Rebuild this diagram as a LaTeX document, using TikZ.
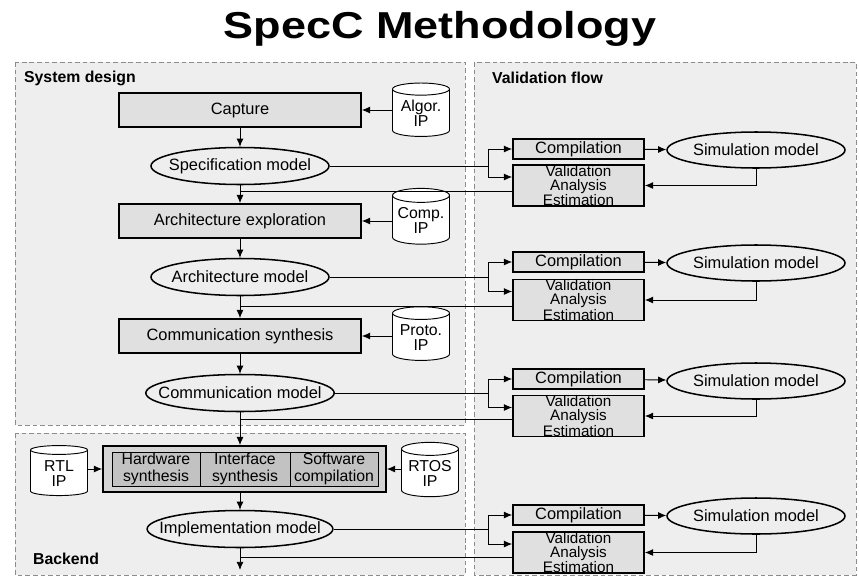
\documentclass[tikz,border=0pt]{standalone}
\usepackage{fontspec}
\setmainfont{Liberation Sans}
\usetikzlibrary{shapes.geometric,arrows.meta}

\definecolor{panelgray}{HTML}{EEEEEE}
\definecolor{boxgray}{HTML}{E0E0E0}
\definecolor{hwgray}{HTML}{D4D4D4}
\definecolor{hwinner}{HTML}{C2C2C2}
\definecolor{dashgray}{HTML}{8C8C8C}

% two-line label of an IP library, set a little low in the cylinder
\newcommand\iplabel[2]{\raisebox{0pt}[\dimexpr\height+4pt\relax]{\begin{tabular}{@{}c@{}}#1\\#2\end{tabular}}}

\tikzset{
  panel/.style={draw=dashgray, fill=panelgray, dash pattern=on 4pt off 2.5pt, line width=0.8pt},
  panellabel/.style={anchor=west, font=\fontsize{13.5}{15}\selectfont\bfseries},
  stagebox/.style={draw, fill=boxgray, line width=1.5pt, minimum width=7.26cm, minimum height=1.02cm},
  modelnode/.style={ellipse, draw, fill=panelgray, line width=1.3pt, minimum width=5.34cm, minimum height=1.11cm,
    inner xsep=-0.45cm, inner ysep=0pt},
  ipdb/.style={cylinder, shape border rotate=90, aspect=0.3, draw, fill=white, line width=0.8pt,
    minimum width=1.71cm, minimum height=1.5cm, inner sep=0pt,
    font=\fontsize{13.5}{11}\selectfont},
  hwbox/.style={draw, fill=hwgray, line width=1.5pt, minimum width=8.49cm, minimum height=1.38cm},
  hwpart/.style={draw, fill=hwinner, line width=0.5pt, minimum height=1.02cm, inner sep=0pt, align=center,
    font=\fontsize{13.5}{14}\selectfont},
  valbox/.style={draw, fill=boxgray, line width=1.5pt, minimum width=3.93cm, minimum height=0.6cm, inner sep=0pt},
  simnode/.style={ellipse, draw, fill=panelgray, line width=1.3pt, minimum width=5.34cm, minimum height=1.08cm,
    inner xsep=-0.45cm, inner ysep=0pt},
  arr/.style={-{Latex[length=7pt,width=6pt]}, line width=0.8pt},
  link/.style={line width=0.8pt}
}

\begin{document}
\begin{tikzpicture}[x=0.03cm, y=-0.03cm, every node/.style={font=\fontsize{14}{15}\selectfont}]
  \useasboundingbox (0,0) rectangle (859,578);

  % title
  \node[anchor=base, xscale=1.2, font=\fontsize{32}{36}\selectfont\bfseries] (title) at (440,38) {SpecC Methodology};

  % panels
  \draw[panel] (15,62) rectangle (465,425);
  \draw[panel] (15,433) rectangle (465,575);
  \draw[panel] (474,62) rectangle (856,575);
  \node[panellabel] (sdlabel) at (20,78) {System design};
  \node[panellabel] (vflabel) at (488,78) {Validation flow};
  \node[panellabel] (belabel) at (29,559) {Backend};

  % design steps and models
  \node[stagebox] (capture) at (240,110) {Capture};
  \node[modelnode] (specmodel) at (240,166) {Specification model};
  \node[stagebox] (archexpl) at (240,221) {Architecture exploration};
  \node[modelnode] (archmodel) at (240,277) {Architecture model};
  \node[stagebox] (commsynth) at (240,336) {Communication synthesis};
  \node[modelnode] (commmodel) at (240,393) {Communication model};

  % backend synthesis
  \node[hwbox] (backendbox) at (244.5,469) {};
  \node[hwpart, minimum width=2.64cm] (hwsynth) at (156,469) {Hardware\\synthesis};
  \node[hwpart, minimum width=2.7cm] (ifsynth) at (245,469) {Interface\\synthesis};
  \node[hwpart, minimum width=2.64cm] (swcomp) at (334,469) {Software\\compilation};
  \node[modelnode] (implmodel) at (240,529) {Implementation model};
  \coordinate (flowend) at (240,570);

  % IP libraries
  \node[ipdb] (algorip) at (421,113) {\iplabel{Algor.}{IP}};
  \node[ipdb] (compip) at (421,220) {\iplabel{Comp.}{IP}};
  \node[ipdb] (protoip) at (421,337) {\iplabel{Proto.}{IP}};
  \node[ipdb] (rtlip) at (59,473) {\iplabel{RTL}{IP}};
  \node[ipdb] (rtosip) at (430,473) {\iplabel{RTOS}{IP}};

  % main column
  \draw[arr] (capture) -- (specmodel);
  \draw[arr] (specmodel) -- (archexpl);
  \draw[arr] (archexpl) -- (archmodel);
  \draw[arr] (archmodel) -- (commsynth);
  \draw[arr] (commsynth) -- (commmodel);
  \draw[arr] (commmodel.south) -- (commmodel.south |- backendbox.north);
  \draw[arr] (commmodel.south |- backendbox.south) -- (implmodel.north);
  \draw[arr] (implmodel) -- (flowend);

  % IP inputs
  \draw[arr] (algorip.west |- capture) -- (capture.east);
  \draw[arr] (compip.west |- archexpl) -- (archexpl.east);
  \draw[arr] (protoip.west |- commsynth) -- (commsynth.east);
  \draw[arr] (rtlip.east |- backendbox) -- (backendbox.west);
  \draw[arr] (rtosip.west |- backendbox) -- (backendbox.east);

  % validation of each model
  \foreach \m/\cy/\vy/\sy/\fy [count=\i] in {specmodel/149/185.5/150/191, archmodel/262/300/263/306,
      commmodel/379/416/381/419, implmodel/515/552.5/516/557} {
    \node[valbox] (comp\i) at (578.5,\cy) {Compilation};
    \node[valbox, minimum height=1.23cm, align=center, font=\fontsize{13}{12}\selectfont]
      (valid\i) at (578.5,\vy) {Validation\\Analysis\\Estimation};
    \node[simnode] (sim\i) at (756,\sy) {Simulation model};
    \coordinate (split\i) at (488,\cy);
    \coordinate (splitlow\i) at (488,\vy-8.5);
    \coordinate (back\i) at (240,\fy);
    \draw[link] (\m.east) -- (split\i |- \m.east);
    \draw[link] (split\i) -- (splitlow\i);
    \draw[arr] (split\i) -- (comp\i.west);
    \draw[arr] (splitlow\i) -- (splitlow\i -| valid\i.west);
    \draw[link] (back\i -| valid\i.west) -- (back\i);
    \draw[arr] (comp\i) -- (sim\i);
    \draw[arr] (sim\i.south) |- (valid\i.east);
  }
\end{tikzpicture}
\end{document}
